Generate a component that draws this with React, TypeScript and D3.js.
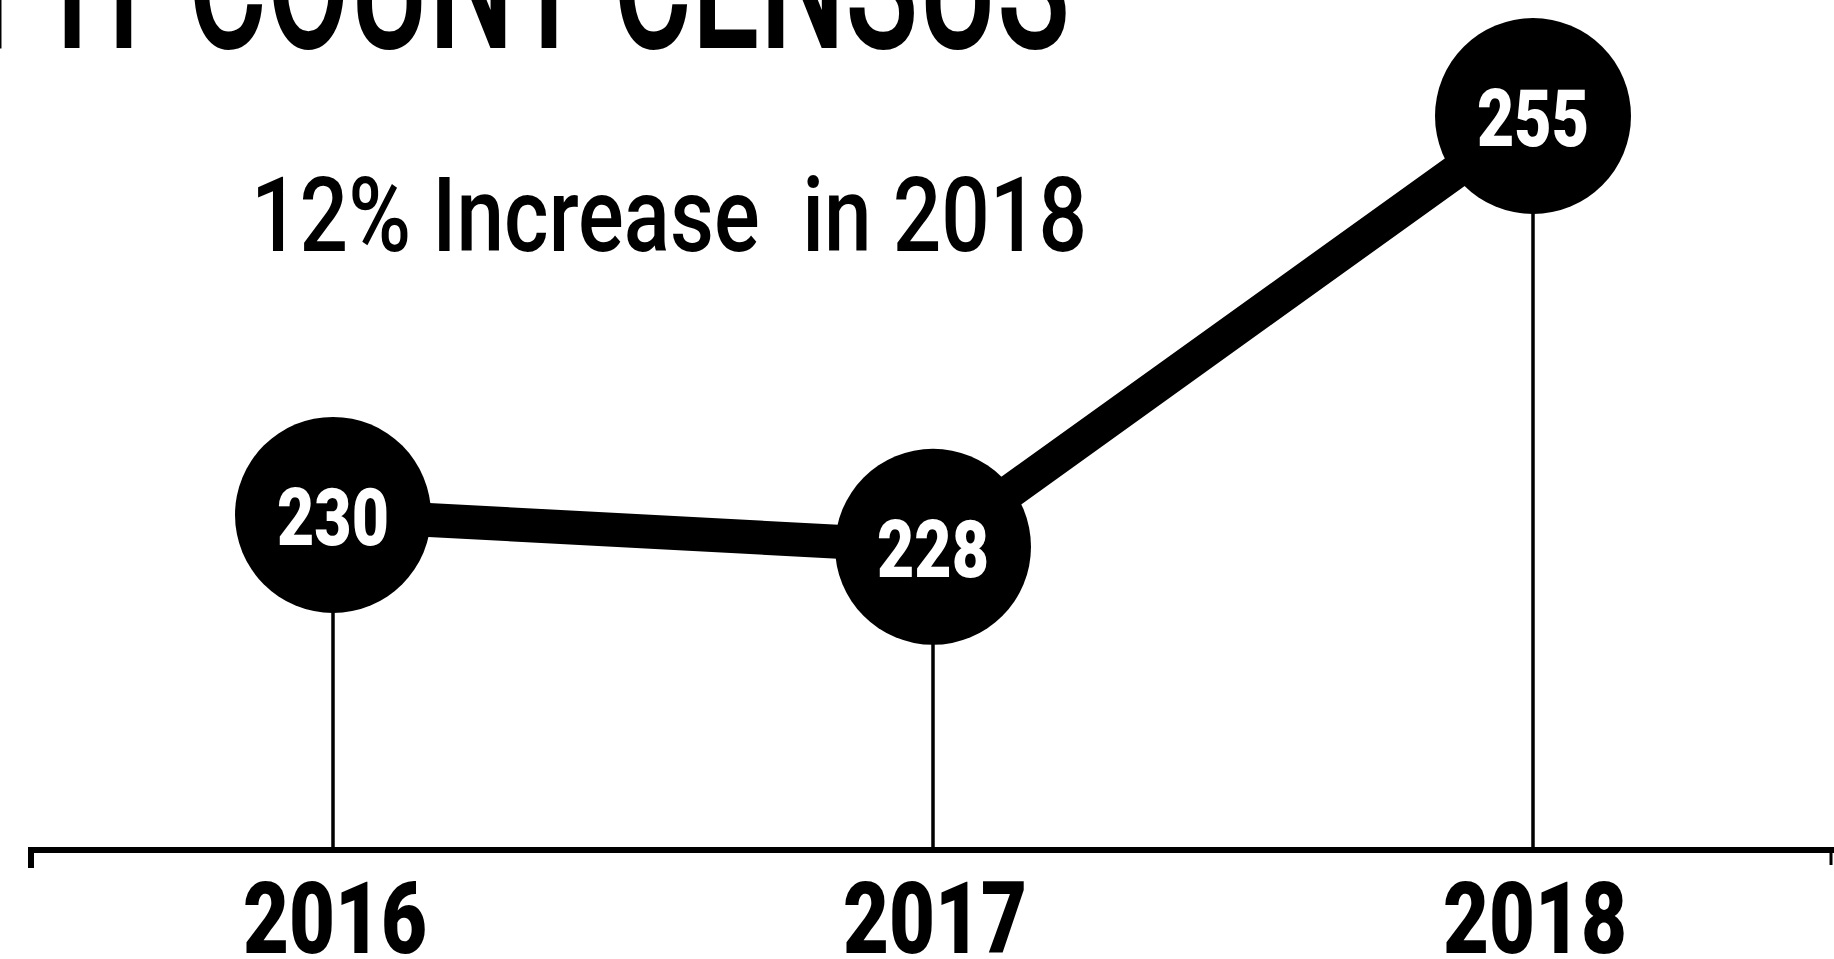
import React from "react";
import * as d3 from "d3";

const title = "PIT COUNT CENSUS";
const subtitle = "12% Increase  in 2018";
const years = ["2016", "2017", "2018"];
const counts = [230, 228, 255];

const W = 1834;
const H = 959;

export default function App() {
  const x = d3.scalePoint<string>().domain(years).range([33, 1833]).padding(0.5);
  const y = d3.scaleLinear().domain([209, 255]).range([850, 116]);
  const pts: [number, number][] = years.map((yr, i) => [x(yr) as number, y(counts[i])]);
  const line = d3.line<[number, number]>().x((d) => d[0]).y((d) => d[1]);
  const axisY = y(209);
  const r = 98;
  const font = "Roboto, 'Liberation Sans', sans-serif";

  return (
    <svg
      width={W}
      height={H}
      style={{ position: "absolute", left: 0, top: 0, background: "#fff" }}
    >
      <rect x={0} y={0} width={W} height={H} fill="#fff" />
      {/* title, cut off at top */}
      <text
        x={-22}
        y={48}
        fontFamily={font}
        fontWeight={500}
        fontSize={190}
        fill="#000"
        textLength={1092}
        lengthAdjust="spacingAndGlyphs"
      >
        {title}
      </text>
      <text
        x={251}
        y={251}
        fontFamily={font}
        fontWeight={500}
        fontSize={104}
        fill="#000"
        textLength={836}
        lengthAdjust="spacingAndGlyphs"
        style={{ whiteSpace: "pre" }}
      >
        {subtitle}
      </text>
      {/* drop lines */}
      {pts.map((p, i) => (
        <line key={"d" + i} x1={p[0]} x2={p[0]} y1={p[1]} y2={axisY} stroke="#000" strokeWidth={3.5} />
      ))}
      <path d={line(pts) || ""} fill="none" stroke="#000" strokeWidth={34} strokeLinejoin="round" />
      {pts.map((p, i) => (
        <circle key={"c" + i} cx={p[0]} cy={p[1]} r={r} fill="#000" />
      ))}
      {pts.map((p, i) => (
        <text
          key={"v" + i}
          x={p[0] - 56}
          y={p[1] + 30}
          fontFamily={font}
          fontWeight={900}
          fontSize={80}
          fill="#fff"
          textLength={112}
          lengthAdjust="spacingAndGlyphs"
        >
          {String(counts[i])}
        </text>
      ))}
      {/* axis */}
      <line x1={28} x2={W} y1={axisY} y2={axisY} stroke="#000" strokeWidth={6} />
      <line x1={31} x2={31} y1={axisY - 3} y2={axisY + 18} stroke="#000" strokeWidth={6} />
      <line x1={1831} x2={1831} y1={axisY} y2={axisY + 15} stroke="#000" strokeWidth={3} />
      {years.map((yr) => (
        <text
          key={"y" + yr}
          x={(x(yr) as number) - 90}
          y={953}
          fontFamily={font}
          fontWeight={900}
          fontSize={100}
          fill="#000"
          textLength={184}
          lengthAdjust="spacingAndGlyphs"
        >
          {yr}
        </text>
      ))}
    </svg>
  );
}
